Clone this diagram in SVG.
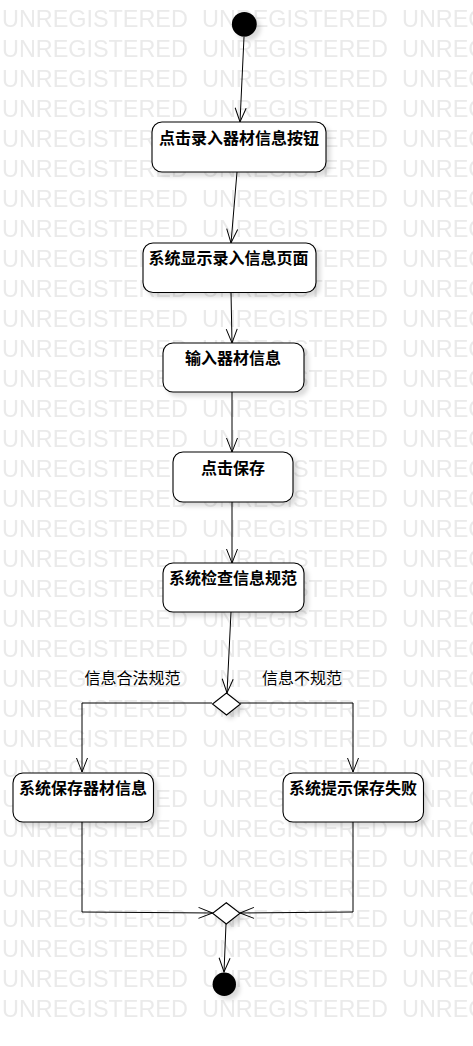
<svg xmlns="http://www.w3.org/2000/svg" width="473" height="1046" viewBox="0 0 473 1046">
<style>
.wm{font-family:"Liberation Sans",Arial,sans-serif;font-size:23.4px;fill:#eaeaea}
.node rect{fill:#fff;stroke:#000;stroke-width:1.1}
.lbl{font-family:"Noto Sans CJK SC","Noto Sans",sans-serif;font-size:16px;font-weight:bold;fill:#000;text-anchor:middle}
.glbl{font-family:"Noto Sans CJK SC","Noto Sans",sans-serif;font-size:16px;fill:#000;text-anchor:middle}
.edge{fill:none;stroke:#000;stroke-width:1}
.dot{fill:#000}
.dia{fill:#fff;stroke:#000;stroke-width:1.1}
</style>
<defs>
<pattern id="wmp" patternUnits="userSpaceOnUse" x="2" y="0" width="200" height="30">
<text class="wm" x="0" y="27">UNREGISTERED</text>
</pattern>
<filter id="sh" x="-20%" y="-20%" width="150%" height="160%">
<feDropShadow dx="4" dy="4" stdDeviation="2" flood-color="#000" flood-opacity="0.14"/>
</filter>
<marker id="arr" markerUnits="userSpaceOnUse" markerWidth="16" markerHeight="13" refX="14" refY="6.5" orient="auto" overflow="visible">
<path d="M0,1 L14,6.5 L0,12" fill="none" stroke="#000" stroke-width="1"/>
</marker>
</defs>
<rect x="0" y="0" width="473" height="1020" fill="url(#wmp)"/>

<g id="connectors">
<path class="edge" d="M244,37 L240,122" marker-end="url(#arr)"/>
<path class="edge" d="M237,172 L231,243" marker-end="url(#arr)"/>
<path class="edge" d="M231,292 L232,343" marker-end="url(#arr)"/>
<path class="edge" d="M232,392 L232,452" marker-end="url(#arr)"/>
<path class="edge" d="M232,502 L232,563" marker-end="url(#arr)"/>
<path class="edge" d="M231,612 L227,693" marker-end="url(#arr)"/>
<path class="edge" d="M212,703 L82,703 L82,772" marker-end="url(#arr)"/>
<path class="edge" d="M240,703 L353,703 L353,772" marker-end="url(#arr)"/>
<path class="edge" d="M82,822 L82,912 L212.5,913" marker-end="url(#arr)"/>
<path class="edge" d="M353,822 L353,912 L240,913" marker-end="url(#arr)"/>
<path class="edge" d="M226,924 L224,972" marker-end="url(#arr)"/>
<text class="glbl" x="132.5" y="684">信息合法规范</text>
<text class="glbl" x="302" y="684">信息不规范</text>
</g>

<g id="initial"><circle class="dot" cx="244.3" cy="24.3" r="12.4" filter="url(#sh)"/></g>

<g id="n1" class="node"><rect x="152" y="122" width="174" height="50" rx="10" filter="url(#sh)"/><text class="lbl" x="239" y="144">点击录入器材信息按钮</text></g>
<g id="n2" class="node"><rect x="143" y="243" width="173" height="49.5" rx="10" filter="url(#sh)"/><text class="lbl" x="228.5" y="264">系统显示录入信息页面</text></g>
<g id="n3" class="node"><rect x="163" y="343" width="141" height="49" rx="10" filter="url(#sh)"/><text class="lbl" x="233" y="364">输入器材信息</text></g>
<g id="n4" class="node"><rect x="173" y="452" width="120" height="50" rx="10" filter="url(#sh)"/><text class="lbl" x="233" y="474">点击保存</text></g>
<g id="n5" class="node"><rect x="163" y="563" width="141" height="49" rx="10" filter="url(#sh)"/><text class="lbl" x="233" y="584">系统检查信息规范</text></g>

<g id="decision"><polygon class="dia" points="226.5,693 240.5,704 226.5,715 212.5,704" filter="url(#sh)"/></g>

<g id="n6" class="node"><rect x="13" y="773" width="140.5" height="49" rx="10" filter="url(#sh)"/><text class="lbl" x="83" y="794">系统保存器材信息</text></g>
<g id="n7" class="node"><rect x="283" y="773" width="140.5" height="49" rx="10" filter="url(#sh)"/><text class="lbl" x="353" y="794">系统提示保存失败</text></g>

<g id="merge"><polygon class="dia" points="226.3,902.7 240,913.3 226.3,924 212.6,913.3" filter="url(#sh)"/></g>

<g id="final"><circle class="dot" cx="224.3" cy="984.3" r="11.7" filter="url(#sh)"/></g>
</svg>
